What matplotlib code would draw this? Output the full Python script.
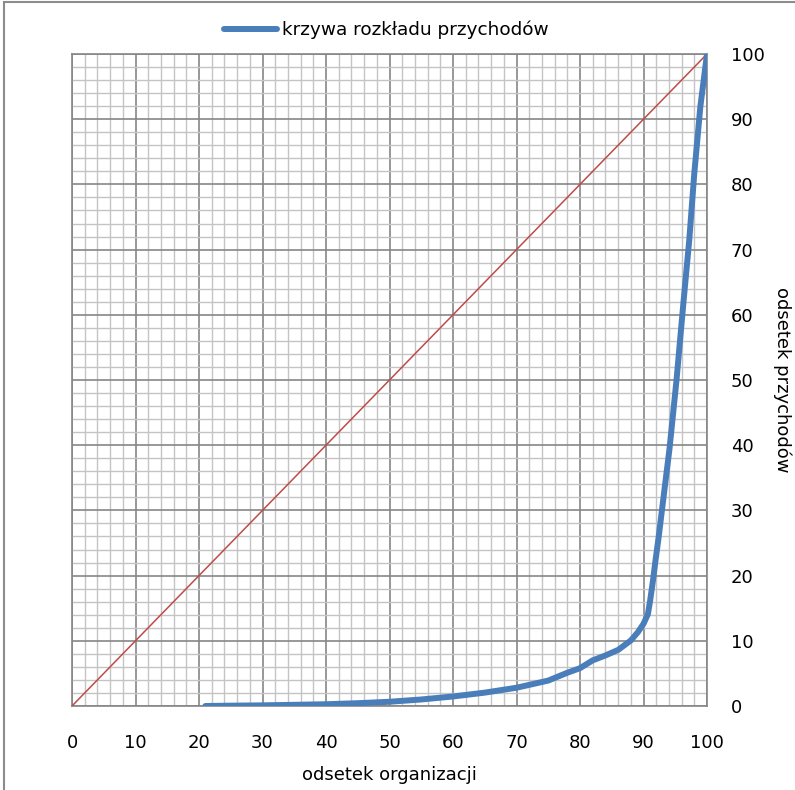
import matplotlib.pyplot as plt
from matplotlib.patches import Rectangle
from matplotlib.ticker import MultipleLocator

# cumulative share of organisations (%) vs cumulative share of revenue (%)
orgs_pct = [21, 25, 30, 35, 40, 45, 50, 55, 60, 65, 70, 75, 78, 80, 82, 84, 86,
            88, 89.1, 90, 90.7, 91.05, 91.5, 91.9, 92.4, 92.9, 94.1, 95.2,
            96.3, 97.2, 98, 98.95, 100]
revenue_pct = [0, 0.05, 0.1, 0.18, 0.27, 0.43, 0.65, 1.0, 1.46, 2.05, 2.8, 3.9,
               5.1, 5.8, 7.0, 7.75, 8.6, 10.05, 11.3, 12.6, 14.1, 16.2, 19.3,
               22.4, 26, 30, 39.5, 50, 62, 71.4, 81.7, 91.9, 100]
equality = [0, 100]

fig = plt.figure(figsize=(7.95, 7.9), dpi=100)
ax = fig.add_axes([72 / 795, 84 / 790, 635 / 795, 652 / 790])

# outer chart frame (cropped on right/bottom like the source)
fig.patches.append(Rectangle((4 / 795, -0.1), 1.2, 1.1 - 2 / 790,
                             transform=fig.transFigure, fill=False,
                             edgecolor='#8c8c8c', linewidth=1.5))

ax.plot(equality, equality, color='#be4b48', linewidth=1.1, zorder=3)
ax.plot(orgs_pct, revenue_pct, color='#4a7ebb', linewidth=4.3,
        solid_capstyle='round', solid_joinstyle='round',
        label='krzywa rozkładu przychodów', zorder=4)

ax.set_xlim(0, 100)
ax.set_ylim(0, 100)
ax.xaxis.set_major_locator(MultipleLocator(10))
ax.yaxis.set_major_locator(MultipleLocator(10))
ax.xaxis.set_minor_locator(MultipleLocator(2))
ax.yaxis.set_minor_locator(MultipleLocator(2))
ax.grid(which='minor', color='#c4c4c4', linewidth=1.0)
ax.grid(which='major', color='#868686', linewidth=1.2)
ax.set_axisbelow(True)
for s in ax.spines.values():
    s.set_color('#868686')
    s.set_linewidth(1.2)

ax.yaxis.tick_right()
ax.tick_params(which='both', length=0)
ax.tick_params(axis='x', pad=20, labelsize=13)
ax.tick_params(axis='y', pad=17, labelsize=13)

fig.text(389 / 795, 1 - 775 / 790, 'odsetek organizacji', ha='center',
         va='center', fontsize=13)
fig.text(782 / 795, 1 - 380 / 790, 'odsetek przychodów', ha='center',
         va='center', rotation=270, fontsize=13)

fig.legend(loc='center', bbox_to_anchor=(386 / 795, 1 - 30 / 790),
           frameon=False, fontsize=13.3, handlelength=2.9, handletextpad=0.25)

fig.savefig('out.png', dpi=100, facecolor='white')
